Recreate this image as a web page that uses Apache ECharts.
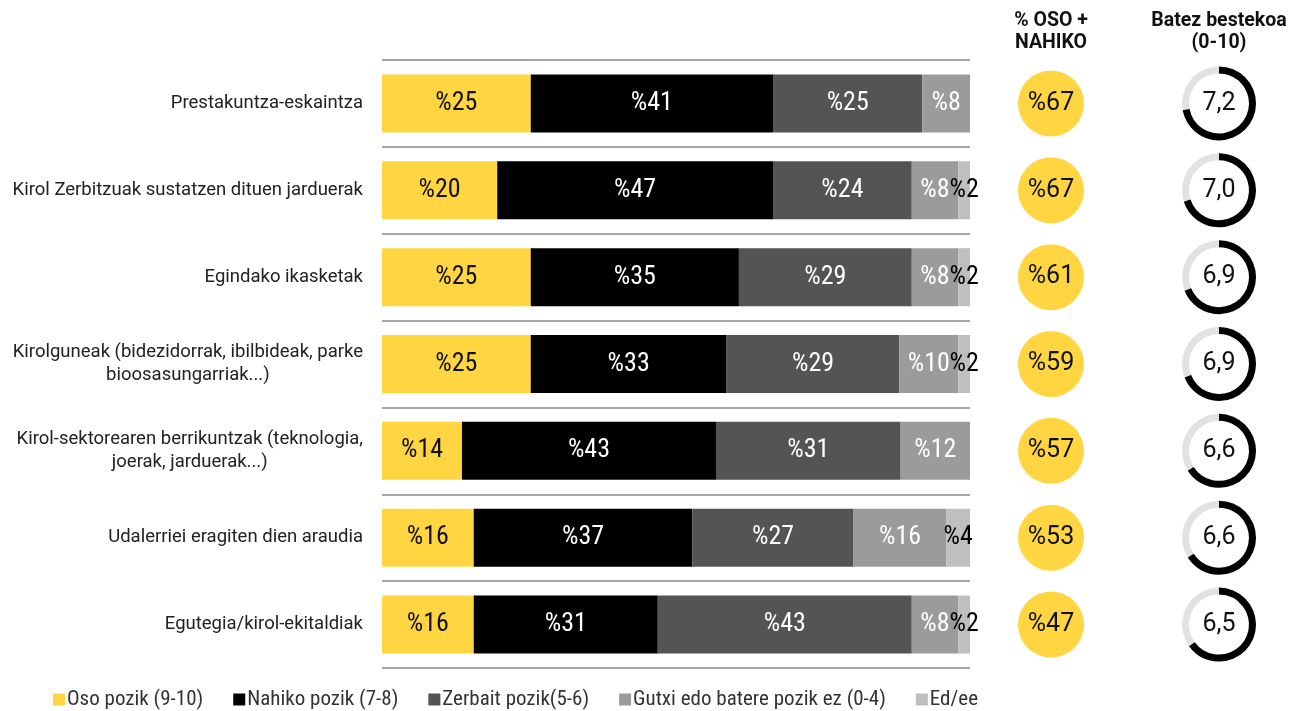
<!DOCTYPE html>
<html>
<head>
<meta charset="utf-8">
<script src="https://cdn.jsdelivr.net/npm/echarts@6/dist/echarts.min.js"></script>
<style>html,body{margin:0;padding:0;background:#fff;}#c{width:1291px;height:711px;}</style>
</head>
<body>
<div id="c"></div>
<script>
const categories = [
  'Prestakuntza-eskaintza',
  'Kirol Zerbitzuak sustatzen dituen jarduerak',
  'Egindako ikasketak',
  'Kirolguneak (bidezidorrak, ibilbideak, parke\nbioosasungarriak...)',
  'Kirol-sektorearen berrikuntzak (teknologia,\njoerak, jarduerak...)',
  'Udalerriei eragiten dien araudia',
  'Egutegia/kirol-ekitaldiak'
];
const seriesNames = ['Oso pozik (9-10)', 'Nahiko pozik (7-8)', 'Zerbait pozik(5-6)', 'Gutxi edo batere pozik ez (0-4)', 'Ed/ee'];
const osoPozik     = [25.3, 19.6, 25.3, 25.3, 13.6, 15.6, 15.6];
const nahikoPozik  = [41.2, 46.9, 35.4, 33.3, 43.2, 37.2, 31.3];
const zerbaitPozik = [25.4, 23.6, 29.4, 29.4, 31.4, 27.4, 43.2];
const gutxiPozik   = [8.1, 7.9, 7.9, 10.0, 11.8, 15.8, 7.9];
const edEe         = [0, 2.0, 2.0, 2.0, 0, 4.0, 2.0];
const osoNahiko    = [67, 67, 61, 59, 57, 53, 47];
const batezBestekoa = [7.2, 7.0, 6.9, 6.9, 6.6, 6.6, 6.5];
const columnHeaders = ['% OSO +\nNAHIKO', 'Batez bestekoa\n(0-10)'];

const COND = '"Roboto Condensed", "Liberation Sans Narrow", Roboto, sans-serif';
const colors = ['#FFD641', '#000000', '#545456', '#9b9b9b', '#bfbfbf'];
const labelColors = ['#111', '#fff', '#fff', '#fff', '#000'];
const barValues = [osoPozik, nahikoPozik, zerbaitPozik, gutxiPozik, edEe];

const barSeries = barValues.map((vals, k) => ({
  name: seriesNames[k],
  type: 'bar',
  stack: 'total',
  xAxisIndex: 0, yAxisIndex: 0,
  barWidth: 58,
  itemStyle: { color: colors[k] },
  label: {
    show: true,
    position: 'inside',
    fontFamily: COND,
    fontSize: 26,
    color: labelColors[k],
    formatter: p => p.value > 0 ? '%' + Math.round(p.value) : ''
  },
  data: vals
}));

const chart = echarts.init(document.getElementById('c'), null, { renderer: 'canvas' });
chart.setOption({
  animation: false,
  backgroundColor: '#fff',
  legend: {
    data: seriesNames,
    left: 48,
    bottom: -4,
    icon: 'rect',
    itemWidth: 12,
    itemHeight: 12,
    itemGap: 30,
    textStyle: { fontFamily: COND, fontSize: 21, color: '#333', padding: [0, 0, 0, -3] }
  },
  grid: [
    { left: 382, right: 321, top: 60, bottom: 43 },
    { left: 1051, right: 72, top: 60, bottom: 43 }
  ],
  xAxis: [
    { type: 'value', gridIndex: 0, min: 0, max: 100, show: false },
    {
      type: 'value', gridIndex: 1, min: 0, max: 1, interval: 1, position: 'top',
      axisLine: { show: false }, axisTick: { show: false }, splitLine: { show: false },
      axisLabel: {
        show: true, showMinLabel: true, showMaxLabel: true, margin: 6,
        fontFamily: 'Roboto, sans-serif', fontWeight: 'bold', fontSize: 19.5, lineHeight: 22, color: '#111',
        formatter: v => columnHeaders[Math.round(v)]
      }
    }
  ],
  yAxis: [
    {
      type: 'category', gridIndex: 0, inverse: true, data: categories,
      axisLine: { show: false }, axisTick: { show: false },
      splitLine: { show: true, interval: 0, lineStyle: { color: '#a6a6a6', width: 2 } },
      axisLabel: {
        margin: 19, color: '#222', fontFamily: 'Roboto, sans-serif', fontSize: 18.5,
        formatter: v => v.split('\n').map(s => '{c|' + s + '}').join('\n'),
        rich: { c: { align: 'center', fontFamily: 'Roboto, sans-serif', fontSize: 18.5, lineHeight: 23, color: '#222' } }
      }
    },
    { type: 'category', gridIndex: 1, inverse: true, data: categories, show: false }
  ],
  series: barSeries.concat([
    {
      type: 'scatter',
      xAxisIndex: 1, yAxisIndex: 1,
      symbol: 'circle',
      symbolSize: 66,
      itemStyle: { color: '#FFD641', opacity: 1 },
      label: {
        show: true, position: 'inside', fontFamily: 'Roboto, sans-serif', fontSize: 25, color: '#111',
        formatter: p => '%' + p.value[2]
      },
      data: osoNahiko.map((v, i) => [0, i, v])
    },
    {
      type: 'custom',
      xAxisIndex: 1, yAxisIndex: 1,
      renderItem: (params, api) => {
        const c = api.coord([api.value(0), api.value(1)]);
        const v = api.value(2);
        const start = -Math.PI / 2;
        return {
          type: 'group',
          children: [
            { type: 'sector', shape: { cx: c[0], cy: c[1], r: 37, r0: 30, startAngle: 0, endAngle: Math.PI * 2 }, style: { fill: '#e2e2e2' } },
            { type: 'sector', shape: { cx: c[0], cy: c[1], r: 37, r0: 30, startAngle: start, endAngle: start + Math.PI * 2 * v / 10, clockwise: true }, style: { fill: '#000' } },
            { type: 'text', x: c[0], y: c[1], style: { text: v.toFixed(1).replace('.', ','), fontFamily: 'Roboto, sans-serif', fontSize: 25, fill: '#111', align: 'center', verticalAlign: 'middle' } }
          ]
        };
      },
      data: batezBestekoa.map((v, i) => [1, i, v])
    }
  ])
});
</script>
</body>
</html>
